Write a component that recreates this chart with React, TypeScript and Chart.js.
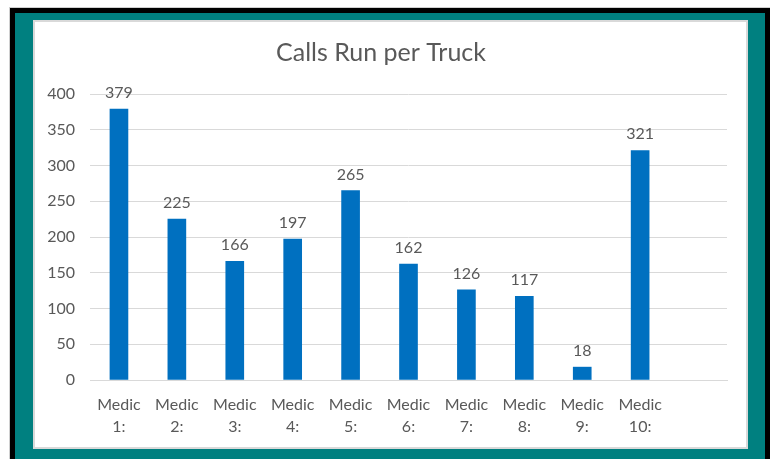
import React, { useEffect, useRef } from "react";
import { Chart, registerables } from "chart.js";

Chart.register(...registerables);

const title = "Calls Run per Truck";
const categories: string[][] = [
  ["Medic", "1:"], ["Medic", "2:"], ["Medic", "3:"], ["Medic", "4:"], ["Medic", "5:"],
  ["Medic", "6:"], ["Medic", "7:"], ["Medic", "8:"], ["Medic", "9:"], ["Medic", "10:"], [""],
];
const calls: (number | null)[] = [379, 225, 166, 197, 265, 162, 126, 117, 18, 321, null];
const yTicks = [0, 50, 100, 150, 200, 250, 300, 350, 400];

const FONT = "Lato, 'Open Sans', sans-serif";
const TEXT = "#595959";
const BAR = "#0070C0";
const GRID = "#D9D9D9";

const valueLabels = {
  id: "valueLabels",
  afterDatasetsDraw(chart: any) {
    const ctx = chart.ctx;
    const meta = chart.getDatasetMeta(0);
    ctx.save();
    ctx.font = `16px ${FONT}`;
    ctx.fillStyle = TEXT;
    ctx.textAlign = "center";
    ctx.textBaseline = "alphabetic";
    meta.data.forEach((bar: any, i: number) => {
      const v = chart.data.datasets[0].data[i];
      if (v === null || v === undefined) return;
      ctx.fillText(String(v), bar.x, bar.y - 11);
    });
    ctx.restore();
  },
};

export default function App() {
  const ref = useRef<HTMLCanvasElement | null>(null);
  useEffect(() => {
    if (!ref.current) return;
    const chart = new Chart(ref.current, {
      type: "bar",
      data: {
        labels: categories,
        datasets: [
          {
            data: calls,
            backgroundColor: BAR,
            barThickness: 18,
          },
        ],
      },
      options: {
        animation: false,
        responsive: false,
        layout: { padding: { left: 0, right: 19, top: 0, bottom: 0 } },
        plugins: {
          legend: { display: false },
          tooltip: { enabled: false },
          title: {
            display: true,
            text: title,
            color: TEXT,
            font: { family: FONT, size: 25, weight: "normal", lineHeight: 1.2 },
            padding: { top: 16, bottom: 26 },
          },
        },
        scales: {
          x: {
            grid: { display: false, drawTicks: false },
            border: { display: true, color: GRID, width: 1 },
            ticks: {
              color: TEXT,
              font: { family: FONT, size: 16, lineHeight: 1.35 },
              padding: 14,
              maxRotation: 0,
              minRotation: 0,
              autoSkip: false,
            },
            afterFit: (s: any) => { s.height = 67; },
          },
          y: {
            min: 0,
            max: 400,
            afterBuildTicks: (s: any) => { s.ticks = yTicks.map((v) => ({ value: v })); },
            grid: { color: GRID, drawTicks: false },
            border: { display: false },
            ticks: {
              color: TEXT,
              font: { family: FONT, size: 16 },
              padding: 15,
            },
            afterFit: (s: any) => { s.width = 55; },
          },
        },
      },
      plugins: [valueLabels],
    });
    return () => chart.destroy();
  }, []);

  return (
    <div style={{ position: "fixed", left: 0, top: 0, width: 772, height: 459, background: "#fff", overflow: "hidden" }}>
      <div style={{ position: "absolute", left: 9, top: 7, width: 760, height: 460, background: "#000", borderTop: "1px solid #d0d0d0", borderLeft: "1px solid #d0d0d0" }} />
      <div style={{ position: "absolute", left: 15, top: 13, width: 750, height: 460, background: "#008080" }} />
      <div style={{ position: "absolute", left: 33, top: 20, width: 711, height: 425, background: "#fff", border: "2px solid #d9d9d9" }}>
        <canvas ref={ref} width={711} height={425} style={{ display: "block" }} />
      </div>
    </div>
  );
}
